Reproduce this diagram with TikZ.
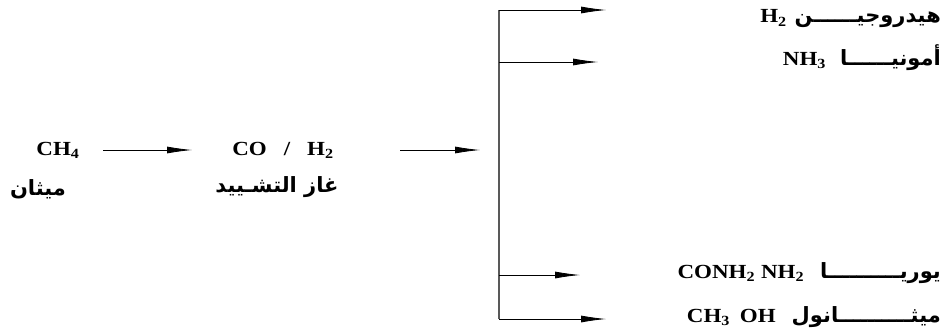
\documentclass[tikz,border=0pt]{standalone}
\usepackage{fontspec}
\setmainfont{Liberation Serif}
\newfontfamily\latfont[FakeStretch=1.15]{Liberation Serif}
\newfontfamily\arabicfont[Script=Arabic]{DejaVu Sans}
\TeXXeTstate=1
\usetikzlibrary{arrows.meta}
\tikzset{
  lat/.style={font=\latfont\fontsize{20}{22}\selectfont\bfseries, inner sep=0pt},
  ar/.style={font=\arabicfont\fontsize{21}{24}\selectfont\bfseries, inner sep=0pt},
  prod/.style={font=\latfont\fontsize{20}{22}\selectfont\bfseries, inner sep=0pt, anchor=east},
  arr/.style={line width=0.8pt, -{Latex[length=25pt,width=7pt]}},
  trunk/.style={line width=1.6pt, black!65}
}
\newcommand{\artxt}[1]{{\arabicfont\fontsize{21}{24}\selectfont\bfseries\beginR #1\endR}}
\begin{document}
\begin{tikzpicture}[x=1pt,y=-1pt]
\useasboundingbox (0,0) rectangle (944,332);
% left side
\node[lat] (ch4) at (58,150) {CH\textsubscript{4}};
\node[ar] (meth) at (38,189) {\beginR ميثان\endR};
\node[lat] (syn) at (283,150) {CO\hspace{17pt}/\hspace{17pt}H\textsubscript{2}};
\node[ar] (synar) at (277,187) {\beginR غاز التشـييد\endR};
% main arrows
\coordinate (a1s) at (103,150);
\coordinate (a1e) at (192,150);
\coordinate (a2s) at (400,150);
\coordinate (a2e) at (480,150);
\draw[arr] (a1s) -- (a1e);
\draw[arr] (a2s) -- (a2e);
% trunk
\coordinate (vt) at (499,10);
\coordinate (v2) at (499,62);
\coordinate (v3) at (499,275);
\coordinate (vb) at (499,319);
\draw[trunk] (vt) -- (vb);
\coordinate (e1) at (606,10);
\coordinate (e2) at (598,62);
\coordinate (e3) at (580,275);
\coordinate (e4) at (606,319);
\draw[arr] (vt) -- (e1);
\draw[arr] (v2) -- (e2);
\draw[arr] (v3) -- (e3);
\draw[arr] (vb) -- (e4);
% products
\node[prod] (p1) at (941,19) {H\textsubscript{2}\hspace{8pt}\artxt{هيدروجيــــــن}};
\node[prod] (p2) at (941,58) {NH\textsubscript{3}\hspace{14pt}\artxt{أمونيــــــا}};
\node[prod] (p3) at (941,273) {CONH\textsubscript{2}\hspace{6pt}NH\textsubscript{2}\hspace{16pt}\artxt{يوريــــــــــا}};
\node[prod] (p4) at (941,317) {CH\textsubscript{3}\hspace{10pt}OH\hspace{16pt}\artxt{ميثــــــــــانول}};
\end{tikzpicture}
\end{document}
